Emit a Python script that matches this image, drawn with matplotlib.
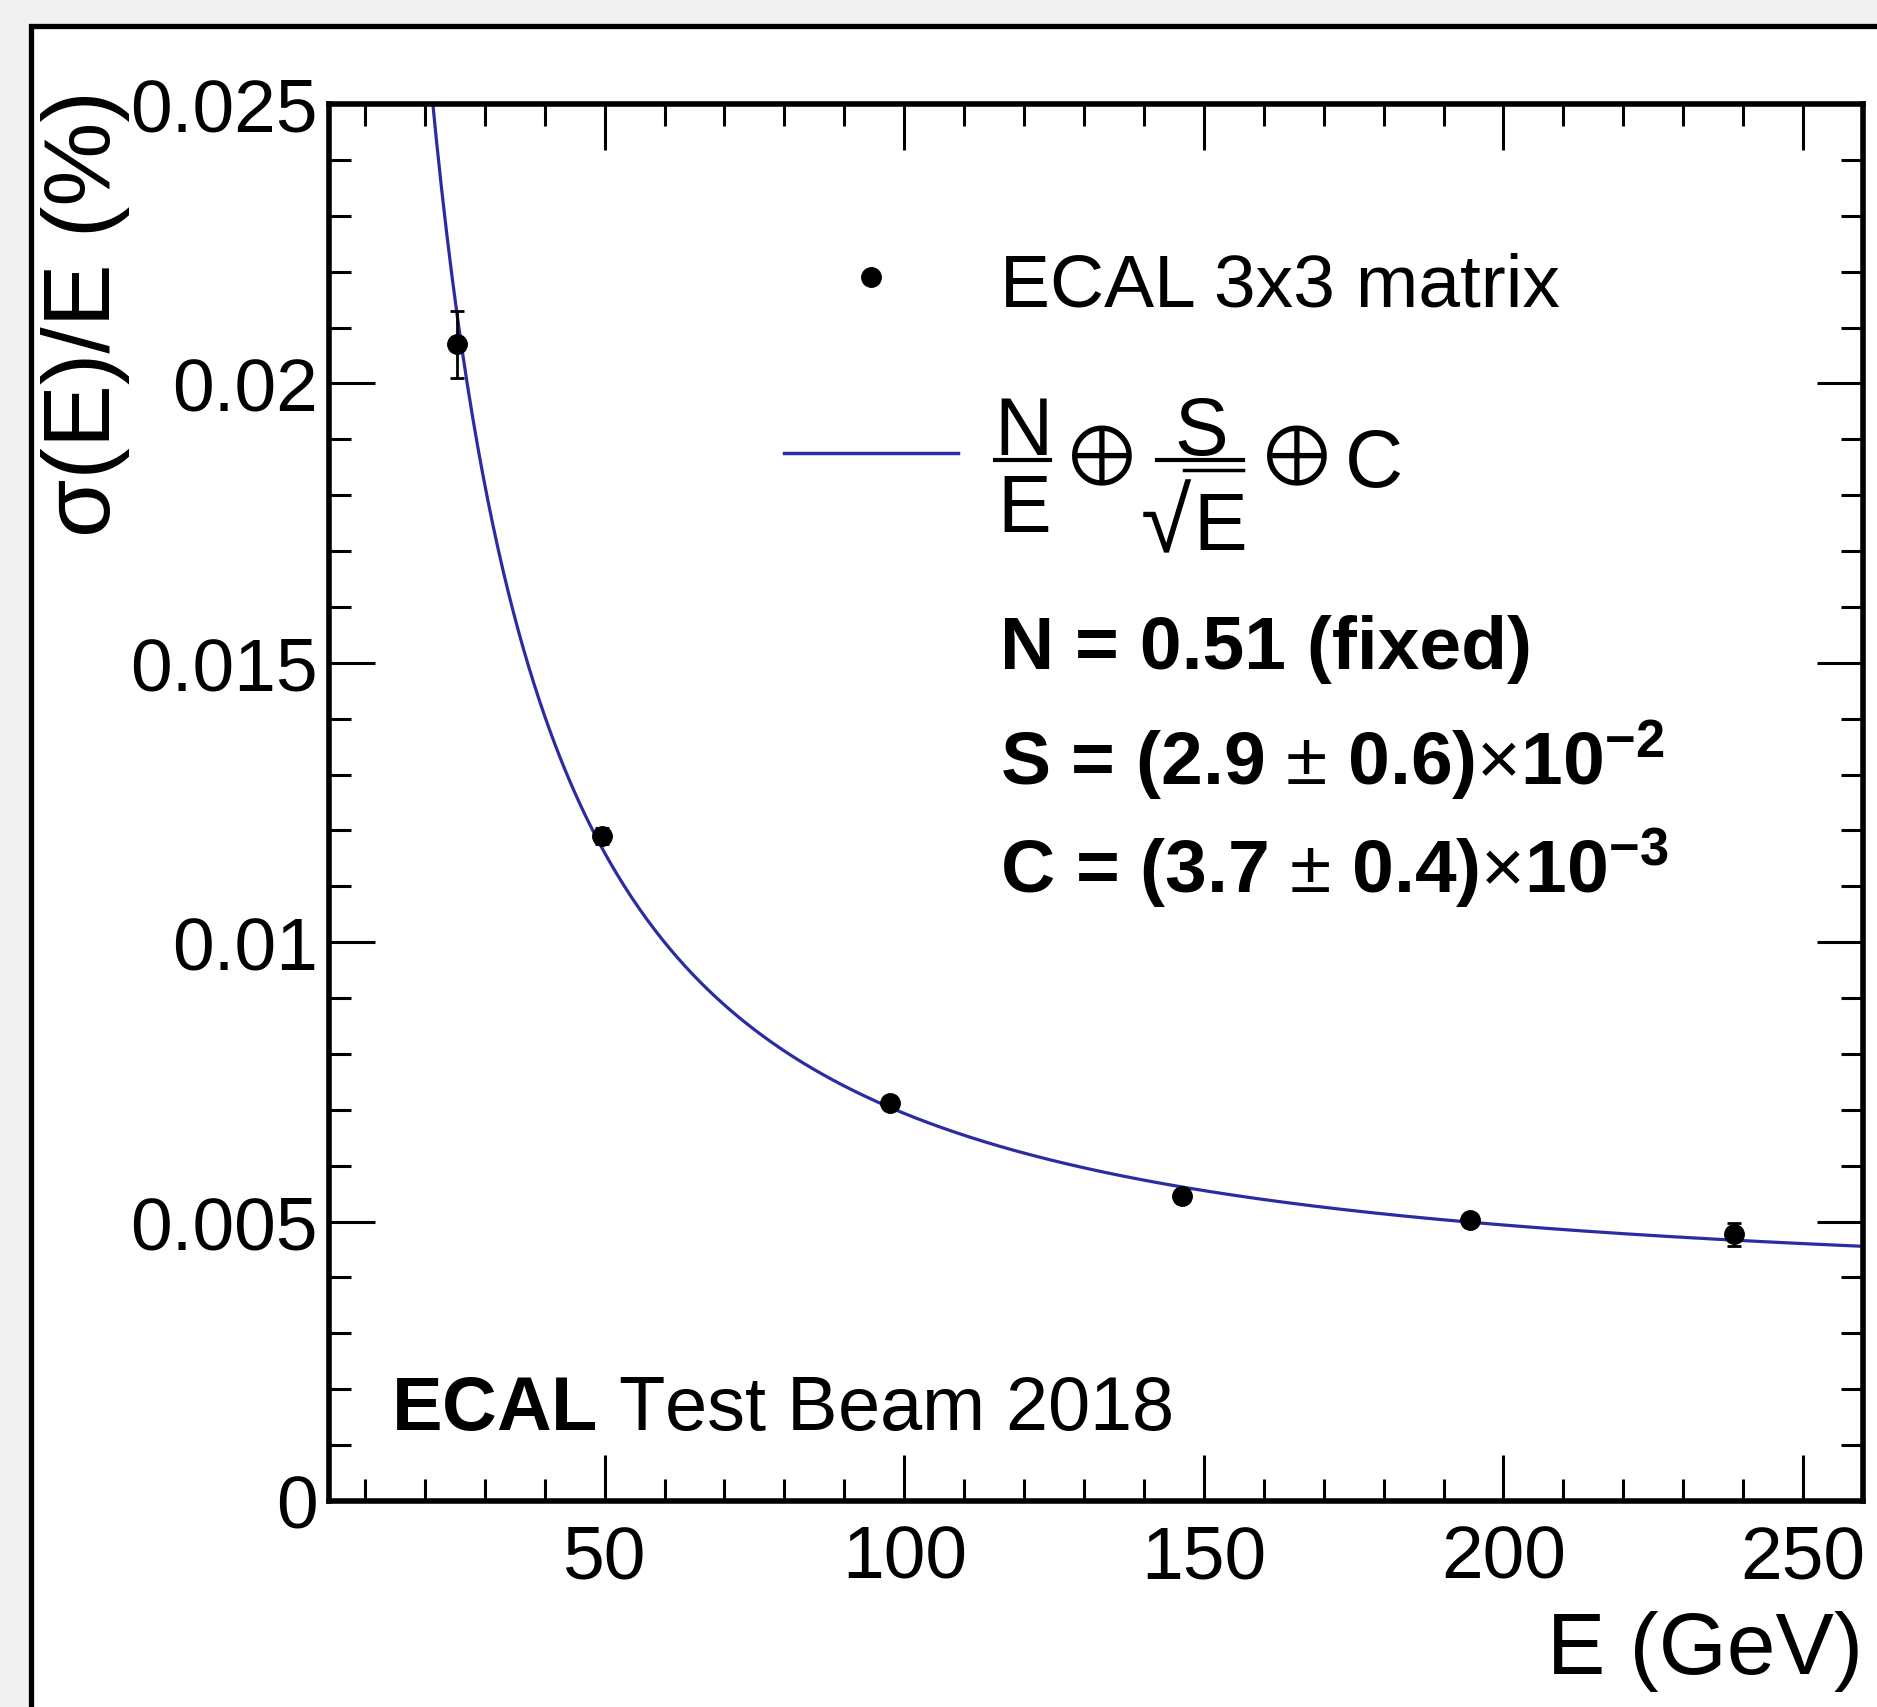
import numpy as np
import matplotlib.pyplot as plt
from matplotlib.patches import Rectangle
from matplotlib.lines import Line2D
from matplotlib.ticker import MultipleLocator

plt.rcParams['font.family'] = ['Liberation Sans', 'DejaVu Sans']
plt.rcParams['mathtext.fontset'] = 'custom'
plt.rcParams['mathtext.rm'] = 'Liberation Sans'
plt.rcParams['mathtext.it'] = 'Liberation Sans'
plt.rcParams['mathtext.bf'] = 'Liberation Sans:bold'
plt.rcParams['mathtext.fallback'] = 'stixsans'

# measured points
energy = [25.3, 49.6, 97.6, 146.4, 194.4, 238.4]
resolution = [0.0207, 0.0119, 0.00713, 0.00546, 0.00503, 0.00477]
res_err = [0.0006, 0.00015, 0.0001, 0.0001, 0.0001, 0.0002]

# fit parameters from the legend
N = 0.51
S = 2.9e-2
C = 3.7e-3

xticks = [50, 100, 150, 200, 250]
yticks = [0, 0.005, 0.01, 0.015, 0.02, 0.025]
ytick_labels = ['0', '0.005', '0.01', '0.015', '0.02', '0.025']

W, H = 1877, 1708
BLUE = '#2c2ca2'
fig = plt.figure(figsize=(W / 100, H / 100), dpi=100)
fig.patch.set_facecolor('#f1f1f1')


def px(x, y):
    # pixel position (from top left) -> figure fraction
    return x / W, 1 - y / H


def hline(x0, x1, y, lw=3):
    fig.add_artist(Line2D([x0 / W, x1 / W], [1 - y / H] * 2, color='black', lw=lw,
                          transform=fig.transFigure))


# white canvas with black border (cut off at right and bottom)
canvas = Rectangle((31 / W, -0.05), 1.2, 1 - 27 / H + 0.05, transform=fig.transFigure,
                   facecolor='white', edgecolor='black', linewidth=3.8, zorder=0)
fig.add_artist(canvas)

ax = fig.add_axes([329 / W, 1 - 1502 / H, (1863 - 329) / W, (1502 - 105) / H])
ax.set_facecolor('white')

e = np.linspace(4, 260, 600)
fit = np.sqrt((N / e) ** 2 + (S / np.sqrt(e)) ** 2 + C ** 2)
ax.plot(e, fit, color=BLUE, lw=2.3, zorder=2)
ax.errorbar(energy, resolution, yerr=res_err, fmt='o', color='black', ms=14,
            elinewidth=2, capsize=5, capthick=2, zorder=3)

ax.set_xlim(4, 260)
ax.set_ylim(0, 0.025)
ax.set_xticks(xticks)
ax.set_xticklabels([str(t) for t in xticks])
ax.set_yticks(yticks)
ax.set_yticklabels(ytick_labels)
ax.xaxis.set_minor_locator(MultipleLocator(10))
ax.yaxis.set_minor_locator(MultipleLocator(0.001))
ax.tick_params(which='both', direction='in', top=True, right=True, width=2.2,
               labelsize=54)
ax.tick_params(which='major', length=33)
ax.tick_params(which='minor', length=16)
ax.tick_params(axis='x', pad=16)
ax.tick_params(axis='y', pad=8)
for sp in ax.spines.values():
    sp.set_linewidth(4)

# axis titles
fig.text(*px(86, 90), 'σ(E)/E (%)', rotation=90, ha='center', va='top', fontsize=68)
fig.text(*px(1863, 1652), 'E (GeV)', ha='right', va='center', fontsize=63)

# legend
ax.plot([0.353], [0.876], 'o', color='black', ms=14, transform=ax.transAxes, clip_on=False)
ax.plot([0.2966, 0.41], [0.7505, 0.7505], color=BLUE, lw=2.5, transform=ax.transAxes)
fig.text(*px(1000, 287), 'ECAL 3x3 matrix', ha='left', va='center', fontsize=54)

# fit formula  N/E (+) S/sqrt(E) (+) C
fs = 58
fig.text(*px(1024, 455), 'N', ha='center', va='baseline', fontsize=fs)
hline(995, 1050, 461)
fig.text(*px(1024, 532), 'E', ha='center', va='baseline', fontsize=fs)
fig.text(*px(1102, 457), '⊕', ha='center', va='center', fontsize=58,
         family='STIXGeneral')
fig.text(*px(1201, 455), 'S', ha='center', va='baseline', fontsize=fs)
hline(1157, 1243, 461)
fig.text(*px(1191, 552), '√', ha='right', va='baseline', fontsize=66)
hline(1184, 1243, 471, lw=2.5)
fig.text(*px(1193, 550), 'E', ha='left', va='baseline', fontsize=fs)
fig.text(*px(1297, 457), '⊕', ha='center', va='center', fontsize=58,
         family='STIXGeneral')
fig.text(*px(1345, 487), 'C', ha='left', va='baseline', fontsize=fs)

fig.text(*px(1000, 650), 'N = 0.51 (fixed)', ha='left', va='center', fontsize=54,
         fontweight='bold')
fig.text(*px(1000, 761), r'S = (2.9 $\pm$ 0.6)$\times$10$^{\mathbf{-2}}$', ha='left',
         va='center', fontsize=54, fontweight='bold')
fig.text(*px(1000, 869), r'C = (3.7 $\pm$ 0.4)$\times$10$^{\mathbf{-3}}$', ha='left',
         va='center', fontsize=54, fontweight='bold')

fig.text(*px(391, 1411), r'$\mathbf{ECAL}$ Test Beam 2018', ha='left', va='center',
         fontsize=54.5)

fig.savefig('out.png', dpi=100, facecolor=fig.get_facecolor())
